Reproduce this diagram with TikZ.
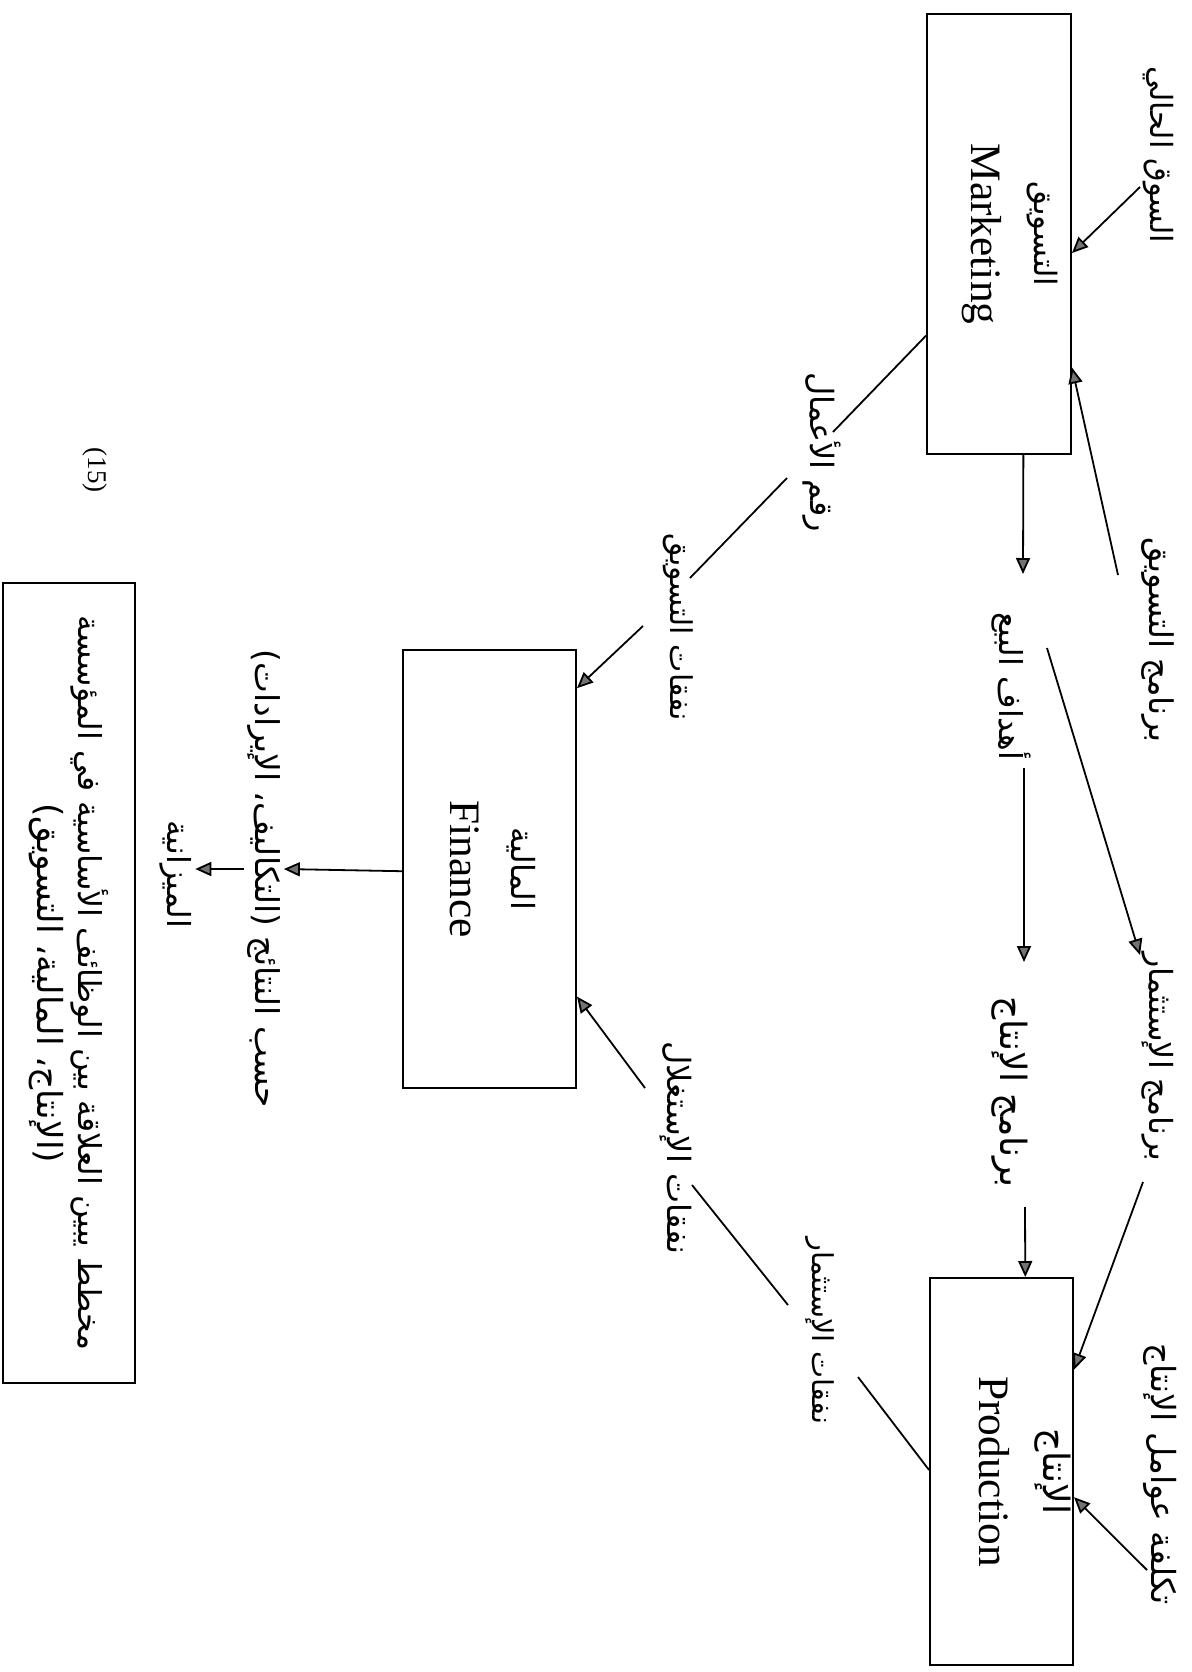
\documentclass[tikz,border=0pt]{standalone}
\usepackage{fontspec}
\usepackage{graphicx}
\setmainfont{Liberation Serif}
\newfontfamily\arabicfont[Script=Arabic]{DejaVu Sans}
\TeXXeTstate=1
\usetikzlibrary{arrows.meta,calc}
\newcommand{\arfit}[2]{\resizebox{#1}{!}{\arabicfont #2}}
\newcommand{\rlab}[2]{\rotatebox{-90}{\arfit{#1}{#2}}}
\newcommand{\engfont}{\fontsize{21.7pt}{26pt}\selectfont}
\tikzset{
  box/.style={draw, line width=1pt, inner sep=0pt},
  lab/.style={inner sep=1.5pt},
  con/.style={line width=0.9pt},
  arr/.style={con, -{Triangle[length=8pt,width=7pt,fill=black!55]}},
}
\begin{document}
\begin{tikzpicture}[x=0.5pt,y=-0.5pt]
\useasboundingbox (0,0) rectangle (1191,1672);
\fill[white] (0,0) rectangle (1191,1672);

% boxes
\node[box, minimum width=72pt, minimum height=220pt] (mkt) at (999,234)
  {\rotatebox{-90}{\begin{tabular}{@{}c@{}}\arfit{52.5pt}{\beginR التسويق\endR}\\[13pt] \engfont Marketing\\[12pt]\end{tabular}}};
\node[box, minimum width=71.5pt, minimum height=193.5pt] (prd) at (1001.5,1471.5)
  {\rotatebox{-90}{\begin{tabular}{@{}c@{}}\arfit{43pt}{\beginR الإنتاج\endR}\\[13pt] \engfont Production\\[20pt]\end{tabular}}};
\node[box, minimum width=86.5pt, minimum height=219pt] (fin) at (489.5,869)
  {\rotatebox{-90}{\begin{tabular}{@{}c@{}}\arfit{41.5pt}{\beginR المالية\endR}\\[13pt] \engfont Finance\end{tabular}}};
\node[box, minimum width=66pt, minimum height=400pt] (cap) at (69,983)
  {\rotatebox{-90}{\begin{tabular}{@{}c@{}}\arfit{367.5pt}{\beginR مخطط يبين العلاقة بين الوظائف الأساسية في المؤسسة\endR}\\[4pt] \arfit{180pt}{\beginR (الإنتاج، المالية، التسويق)\endR}\end{tabular}}};

% labels
\node[lab] (sh)  at (1158,155)  {\rlab{88pt}{\beginR السوق الحالي\endR}};
\node[lab] (bt)  at (1158,640)  {\rlab{103pt}{\beginR برنامج التسويق\endR}};
\node[lab] (bi)  at (1158,1057) {\rlab{104.5pt}{\beginR برنامج الإستثمار\endR}};
\node[lab] (tk)  at (1160,1474) {\rlab{131pt}{\beginR تكلفة عوامل الإنتاج\endR}};
\node[lab] (ah)  at (1011,686)  {\rlab{74pt}{\beginR أهداف البيع\endR}};
\node[lab] (bp)  at (1010,1092) {\rlab{95.5pt}{\beginR برنامج الإنتاج\endR}};
\node[lab] (rq)  at (822,452)   {\rlab{80pt}{\beginR رقم الأعمال\endR}};
\node[lab] (nt)  at (678,627)   {\rlab{94pt}{\beginR نفقات التسويق\endR}};
\node[lab] (ng)  at (676,1148)  {\rlab{106.5pt}{\beginR نفقات الإستغلال\endR}};
\node[lab] (nth) at (820,1331)  {\rlab{93.5pt}{\beginR نفقات الإستثمار\endR}};
\node[lab] (hs)  at (264,879)   {\rlab{229pt}{\beginR حسب النتائج (التكاليف، الإيرادات)\endR}};
\node[lab] (mz)  at (176,874)   {\rlab{54pt}{\beginR الميزانية\endR}};
\node[lab] (pg)  at (95,470)    {\rotatebox{-90}{\fontsize{13.5pt}{16pt}\selectfont (15)}};

% connector end points next to labels
\coordinate (c1) at (1140,187);
\coordinate (c2) at (1118,575);
\coordinate (c3) at (1023,574);
\coordinate (c4) at (1024,768);
\coordinate (c5) at (1024,962);
\coordinate (c6) at (1025,1207);
\coordinate (c7) at (1047,648);
\coordinate (c8) at (1140,955);
\coordinate (c9) at (1143,1182);
\coordinate (c10) at (1147,1570);
\coordinate (m1) at (833,432);
\coordinate (m2) at (787,478);
\coordinate (m3) at (690,578);
\coordinate (m4) at (643,626);
\coordinate (p1) at (858,1377);
\coordinate (p2) at (788,1305);
\coordinate (p3) at (692,1185);
\coordinate (p4) at (645,1088);

% connectors
\draw[arr] (c1) -- ($(mkt.north east)!0.543!(mkt.south east)$);
\draw[arr] (c2) -- ($(mkt.north east)!0.802!(mkt.south east)$);
\draw[arr] ($(mkt.south west)!0.667!(mkt.south east)$) -- (c3);
\draw[arr] (c4) -- (c5);
\draw[arr] (c6) -- ($(prd.north west)!0.664!(prd.north east)$);
\draw[arr] (c7) -- (c8);
\draw[arr] (c9) -- ($(prd.north east)!0.238!(prd.south east)$);
\draw[arr] (c10) -- ($(prd.north east)!0.566!(prd.south east)$);

\draw[con] ($(mkt.north west)!0.73!(mkt.south west)$) -- (m1);
\draw[con] (m2) -- (m3);
\draw[arr] (m4) -- ($(fin.north east)!0.089!(fin.south east)$);

\draw[con] ($(prd.north west)!0.496!(prd.south west)$) -- (p1);
\draw[con] (p2) -- (p3);
\draw[arr] (p4) -- ($(fin.north east)!0.79!(fin.south east)$);

\draw[arr] ($(fin.north west)!0.505!(fin.south west)$) -- (hs.east |- fin.west);
\draw[arr] (hs.west |- fin.west) -- (mz.east |- fin.west);
\end{tikzpicture}
\end{document}
